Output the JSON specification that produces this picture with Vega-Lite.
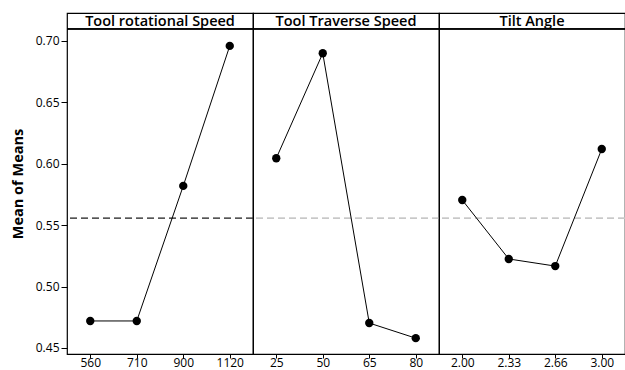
{
  "$schema": "https://vega.github.io/schema/vega-lite/v6.json",
  "padding": {"left": 10, "top": 12, "right": 2, "bottom": 0},
  "background": "white",
  "bounds": "flush",
  "data": {"values": [
    {"factor": "Tool rotational Speed", "level": "560", "mean": 0.472},
    {"factor": "Tool rotational Speed", "level": "710", "mean": 0.472},
    {"factor": "Tool rotational Speed", "level": "900", "mean": 0.582},
    {"factor": "Tool rotational Speed", "level": "1120", "mean": 0.696},
    {"factor": "Tool Traverse Speed", "level": "25", "mean": 0.6045},
    {"factor": "Tool Traverse Speed", "level": "50", "mean": 0.690},
    {"factor": "Tool Traverse Speed", "level": "65", "mean": 0.4703},
    {"factor": "Tool Traverse Speed", "level": "80", "mean": 0.458},
    {"factor": "Tilt Angle", "level": "2.00", "mean": 0.5705},
    {"factor": "Tilt Angle", "level": "2.33", "mean": 0.5225},
    {"factor": "Tilt Angle", "level": "2.66", "mean": 0.5167},
    {"factor": "Tilt Angle", "level": "3.00", "mean": 0.612}
  ]},
  "facet": {
    "column": {"field": "factor", "type": "nominal", "header": null,
      "sort": ["Tool rotational Speed", "Tool Traverse Speed", "Tilt Angle"]}
  },
  "spacing": 0,
  "resolve": {"scale": {"x": "independent"}},
  "spec": {
    "width": 186,
    "height": 341,
    "layer": [
      {
        "mark": {"type": "rule", "strokeDash": [7, 4], "strokeWidth": 1.2},
        "encoding": {
          "y": {"datum": 0.5555, "type": "quantitative"},
          "color": {"field": "factor", "type": "nominal", "legend": null,
            "scale": {"domain": ["Tool rotational Speed", "Tool Traverse Speed", "Tilt Angle"], "range": ["#555555", "#c8c8c8", "#c8c8c8"]}}
        }
      },
      {
        "mark": {"type": "rule", "color": "black", "strokeWidth": 1},
        "encoding": {"y": {"datum": 0.7098, "type": "quantitative"}}
      },
      {
        "transform": [{"filter": "datum.level == '560' || datum.level == '25' || datum.level == '2.00'"}],
        "mark": {"type": "text", "font": "Open Sans", "fontSize": 14.5, "fontWeight": 600, "color": "black", "baseline": "middle", "dy": 1},
        "encoding": {
          "y": {"datum": 0.7163, "type": "quantitative"},
          "text": {"field": "factor"}
        }
      },
      {
        "mark": {"type": "line", "color": "black", "strokeWidth": 1},
        "encoding": {
          "x": {"field": "level", "type": "ordinal", "sort": null},
          "y": {"field": "mean", "type": "quantitative"}
        }
      },
      {
        "mark": {"type": "point", "filled": true, "color": "black", "opacity": 1, "size": 70},
        "encoding": {
          "x": {"field": "level", "type": "ordinal", "sort": null,
            "scale": {"type": "point", "padding": 0.5},
            "axis": {"title": null, "labelAngle": 0, "labelAlign": "center", "labelFlush": false, "labelBound": false, "labelFont": "Open Sans", "labelFontSize": 12, "labelColor": "black", "tickColor": "black", "tickSize": 4, "domain": false, "labelPadding": 4}},
          "y": {"field": "mean", "type": "quantitative",
            "scale": {"domain": [0.4451, 0.7228], "nice": false, "zero": false},
            "axis": {"title": "Mean of Means", "titleFont": "Open Sans", "titleFontSize": 14.5, "titleFontWeight": "bold", "titleColor": "black", "titlePadding": 10,
              "values": [0.45, 0.5, 0.55, 0.6, 0.65, 0.7], "format": ".2f", "grid": false, "domain": false,
              "labelFont": "Open Sans", "labelFontSize": 12, "labelColor": "black", "tickColor": "black", "tickSize": 6, "labelPadding": 2}}
        }
      }
    ]
  },
  "config": {
    "view": {"stroke": "black", "strokeWidth": 1.2}
  }
}
